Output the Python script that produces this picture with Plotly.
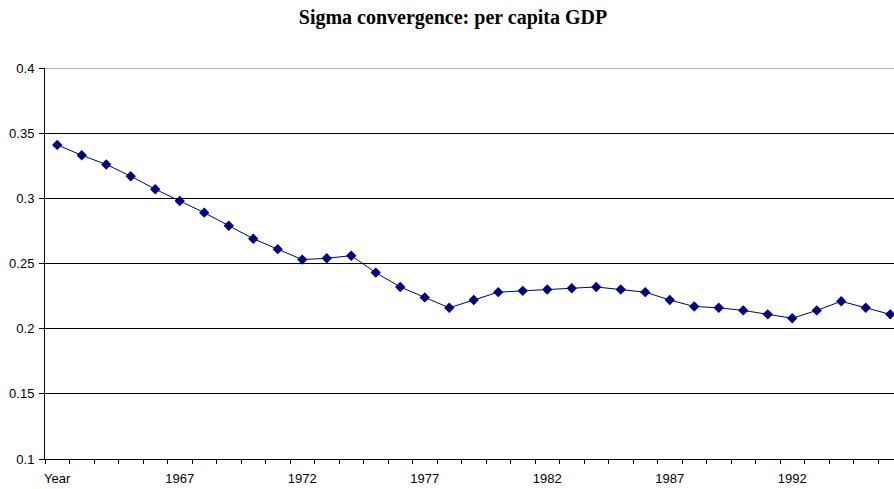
import plotly.graph_objects as go

categories = ["Year"] + [str(y) for y in range(1963, 1997)]
values = [0.341, 0.333, 0.326, 0.317, 0.307, 0.298, 0.289, 0.279, 0.269, 0.261,
          0.253, 0.254, 0.256, 0.243, 0.232, 0.224, 0.216, 0.222, 0.228, 0.229,
          0.230, 0.231, 0.232, 0.230, 0.228, 0.222, 0.217, 0.216, 0.214, 0.211,
          0.208, 0.214, 0.221, 0.216, 0.211]
label_every = 5
title = "Sigma convergence: per capita GDP"

idx = list(range(len(categories)))
tickvals = idx[::label_every]
ticktext = [categories[i] for i in tickvals]

fig = go.Figure()
fig.add_trace(go.Scatter(
    x=idx, y=values, mode="lines+markers",
    line=dict(color="#000080", width=1),
    marker=dict(symbol="diamond", size=8, color="#000080"),
    showlegend=False, hoverinfo="skip",
))

W, H = 894, 489
L, T, B = 45, 68, 30
plot_w = W - L
step = 24.5
fig.update_layout(
    width=W, height=H,
    margin=dict(l=L, r=0, t=T, b=B),
    paper_bgcolor="white", plot_bgcolor="white",
    title=dict(text="<b>" + title + "</b>", x=453 / W, xanchor="center", y=1 - 17 / H, yanchor="middle",
               font=dict(family="Liberation Serif", size=20, color="black")),
    font=dict(family="Liberation Sans", size=13, color="black"),
)
fig.update_xaxes(
    range=[-0.5, -0.5 + plot_w / step],
    tickmode="array", tickvals=tickvals, ticktext=ticktext,
    ticks="", ticklen=0, showgrid=False, zeroline=False,
    showline=True, linecolor="black", linewidth=1,
    ticklabelstandoff=7,
    tickfont=dict(family="Liberation Sans", size=13, color="black"),
    minor=dict(tickmode="linear", tick0=0.5, dtick=1, ticks="outside", ticklen=4,
               tickcolor="black", tickwidth=1, showgrid=False),
)
fig.update_yaxes(
    range=[0.1, 0.4], tickmode="linear", tick0=0.1, dtick=0.05,
    tickformat="~g",
    ticks="outside", ticklen=5, tickcolor="black",
    ticklabelstandoff=2,
    showgrid=True, gridcolor="black", gridwidth=1, zeroline=False,
    showline=True, linecolor="black", linewidth=1,
    tickfont=dict(family="Liberation Sans", size=13, color="black"),
)
fig.add_shape(type="line", xref="paper", yref="y", x0=0, x1=1, y0=0.4, y1=0.4,
              line=dict(color="#707070", width=1))
fig.write_html("out.html")
